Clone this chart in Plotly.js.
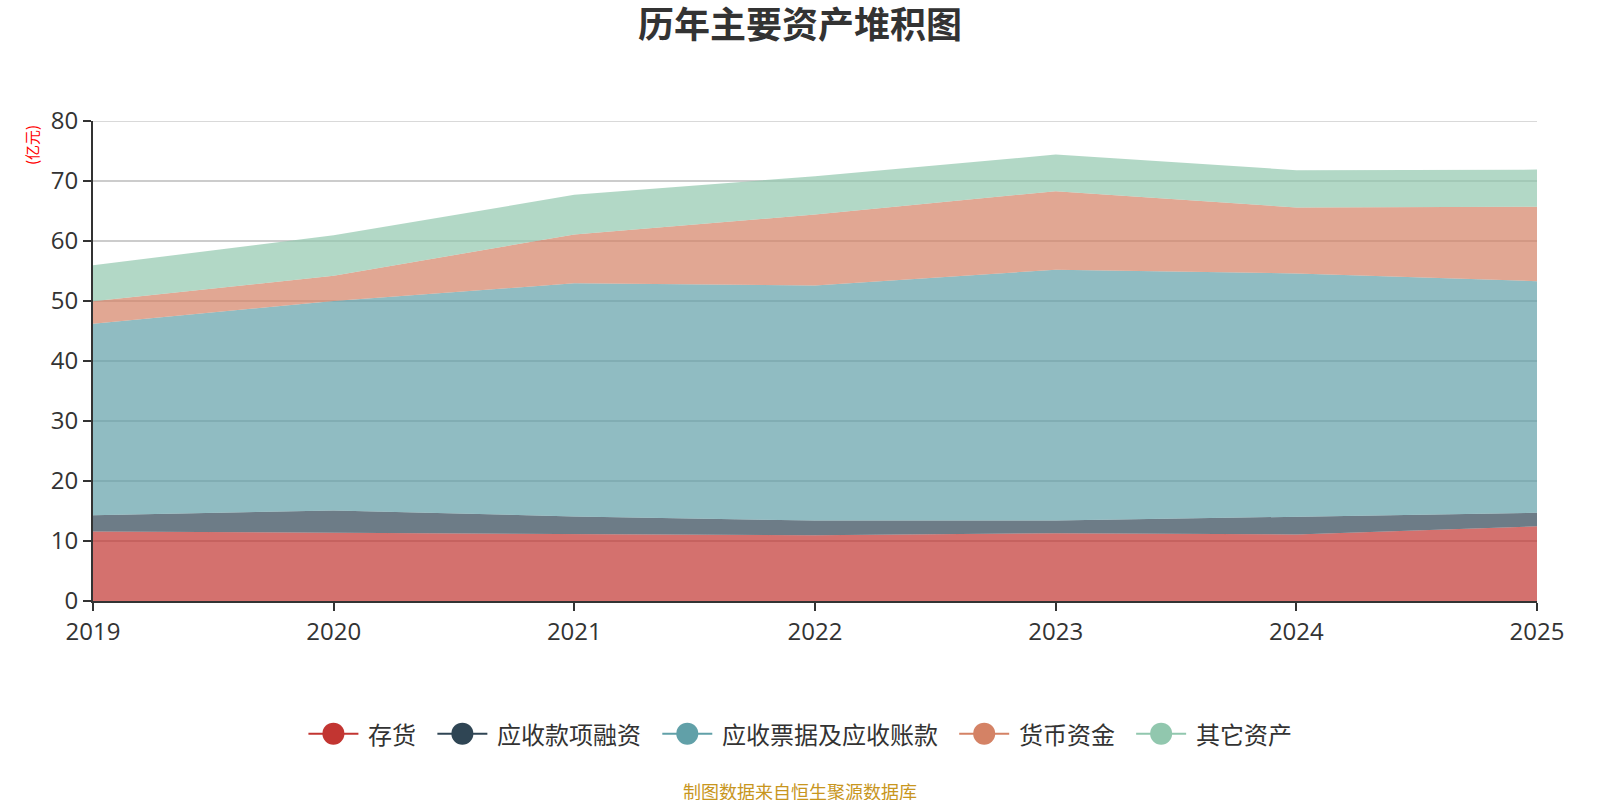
<!DOCTYPE html>
<html>
<head>
<meta charset="utf-8">
<script src="https://cdn.plot.ly/plotly-3.0.1.min.js"></script>
<style>html,body{margin:0;padding:0;background:#fff;}#chart{width:1600px;height:800px;}</style>
</head>
<body>
<div id="chart"></div>
<script>
var years = [2019, 2020, 2021, 2022, 2023, 2024, 2025];
var seriesNames = ['存货', '应收款项融资', '应收票据及应收账款', '货币资金', '其它资产'];
var inventory = [11.6, 11.4, 11.1, 10.95, 11.3, 11.1, 12.45];
var receivableFinancing = [2.7, 3.7, 3.0, 2.45, 2.1, 2.9, 2.25];
var notesAndAccountsReceivable = [31.9, 34.9, 38.85, 39.2, 41.8, 40.6, 38.6];
var monetaryFunds = [3.75, 4.2, 8.15, 11.8, 13.1, 11.0, 12.4];
var otherAssets = [6.0, 6.75, 6.6, 6.4, 6.1, 6.2, 6.2];
var yTicks = [0, 10, 20, 30, 40, 50, 60, 70, 80];

var seriesValues = [inventory, receivableFinancing, notesAndAccountsReceivable, monetaryFunds, otherAssets];
var baseColors = ['#c23531', '#2f4554', '#61a0a8', '#d48265', '#91c7ae'];
var fillColors = ['rgba(194,53,49,0.7)', 'rgba(47,69,84,0.7)', 'rgba(97,160,168,0.7)', 'rgba(212,130,101,0.7)', 'rgba(145,199,174,0.7)'];
var CJK = '"Noto Sans CJK SC", "Noto Sans", sans-serif';
var LATIN = '"Open Sans", "Noto Sans", sans-serif';

// plot area geometry in pixels
var W = 1600, H = 800, L = 92.5, R = 1537, T = 120.5, B = 600.7;
function px(xp) { return (xp - L) / (R - L); }
function py(yp) { return (B - yp) / (B - T); }

var traces = [];
seriesValues.forEach(function (vals, i) {
  traces.push({
    type: 'scatter', mode: 'lines', x: years, y: vals, name: seriesNames[i],
    stackgroup: 'one', fillcolor: fillColors[i],
    line: {width: 0, color: baseColors[i]}, showlegend: false, hoverinfo: 'skip'
  });
});

// custom legend (line + circle + label), centred horizontally
var legendFont = 24, legendY = 733.4, lineLen = 50, gapText = 10, gapItem = 21, circleD = 22;
var widths = seriesNames.map(function (n) { return lineLen + gapText + legendFont * n.length; });
var total = widths.reduce(function (a, b) { return a + b; }, 0) + gapItem * (seriesNames.length - 1);
var cursor = W / 2 - total / 2;
var shapes = [
  {type: 'line', xref: 'paper', yref: 'y', x0: 0, x1: 1, y0: yTicks[yTicks.length - 1], y1: yTicks[yTicks.length - 1],
   line: {color: '#cccccc', width: 1.5}, layer: 'below'}
];
var annotations = [];
seriesNames.forEach(function (n, i) {
  var x0 = cursor, cx = cursor + lineLen / 2;
  shapes.push({type: 'line', xref: 'paper', yref: 'paper', x0: px(x0), x1: px(x0 + lineLen), y0: py(legendY), y1: py(legendY),
               line: {color: baseColors[i], width: 2}});
  shapes.push({type: 'circle', xref: 'paper', yref: 'paper',
               x0: px(cx - circleD / 2), x1: px(cx + circleD / 2), y0: py(legendY + circleD / 2), y1: py(legendY - circleD / 2),
               fillcolor: baseColors[i], line: {color: baseColors[i], width: 0}});
  annotations.push({text: n, xref: 'paper', yref: 'paper', x: px(x0 + lineLen + gapText - 2), y: py(legendY),
                    xanchor: 'left', yanchor: 'middle', showarrow: false,
                    font: {family: CJK, size: legendFont, color: '#333'}});
  cursor += widths[i] + gapItem;
});
annotations.push({text: '(亿元)', xref: 'paper', yref: 'paper', x: px(31), y: py(145),
                  xanchor: 'center', yanchor: 'middle', textangle: -90, showarrow: false,
                  font: {family: CJK, size: 15, color: '#ff0000'}});
annotations.push({text: '制图数据来自恒生聚源数据库', xref: 'paper', yref: 'paper', x: px(W / 2), y: py(791),
                  xanchor: 'center', yanchor: 'middle', showarrow: false,
                  font: {family: CJK, size: 18, color: '#c8961e'}});

var layout = {
  width: W, height: H,
  paper_bgcolor: '#fff', plot_bgcolor: '#fff',
  margin: {l: L, r: W - R, t: T, b: H - B, pad: 0},
  font: {family: CJK, color: '#333', size: 22},
  title: {text: '<b>历年主要资产堆积图</b>', x: 0.5, xanchor: 'center', y: 0.968, yanchor: 'middle',
          font: {family: CJK, size: 36, color: '#333'}},
  showlegend: false,
  hovermode: false,
  xaxis: {
    range: [years[0], years[years.length - 1]], tickmode: 'array', tickvals: years, ticktext: years.map(String),
    showgrid: false, zeroline: false, showline: true, linecolor: '#333', linewidth: 2,
    ticks: 'outside', ticklen: 8, tickwidth: 2, tickcolor: '#333',
    tickfont: {family: LATIN, size: 24, color: '#333'}, fixedrange: true
  },
  yaxis: {
    range: [yTicks[0], yTicks[yTicks.length - 1]], tickmode: 'array', tickvals: yTicks, ticktext: yTicks.map(String),
    showgrid: true, gridcolor: '#cccccc', gridwidth: 1.5, zeroline: false,
    showline: true, linecolor: '#333', linewidth: 2,
    ticks: 'outside', ticklen: 8, tickwidth: 2, tickcolor: '#333',
    tickfont: {family: LATIN, size: 24, color: '#333'}, fixedrange: true
  },
  shapes: shapes,
  annotations: annotations
};

Plotly.newPlot('chart', traces, layout, {displayModeBar: false, staticPlot: true});
</script>
</body>
</html>
